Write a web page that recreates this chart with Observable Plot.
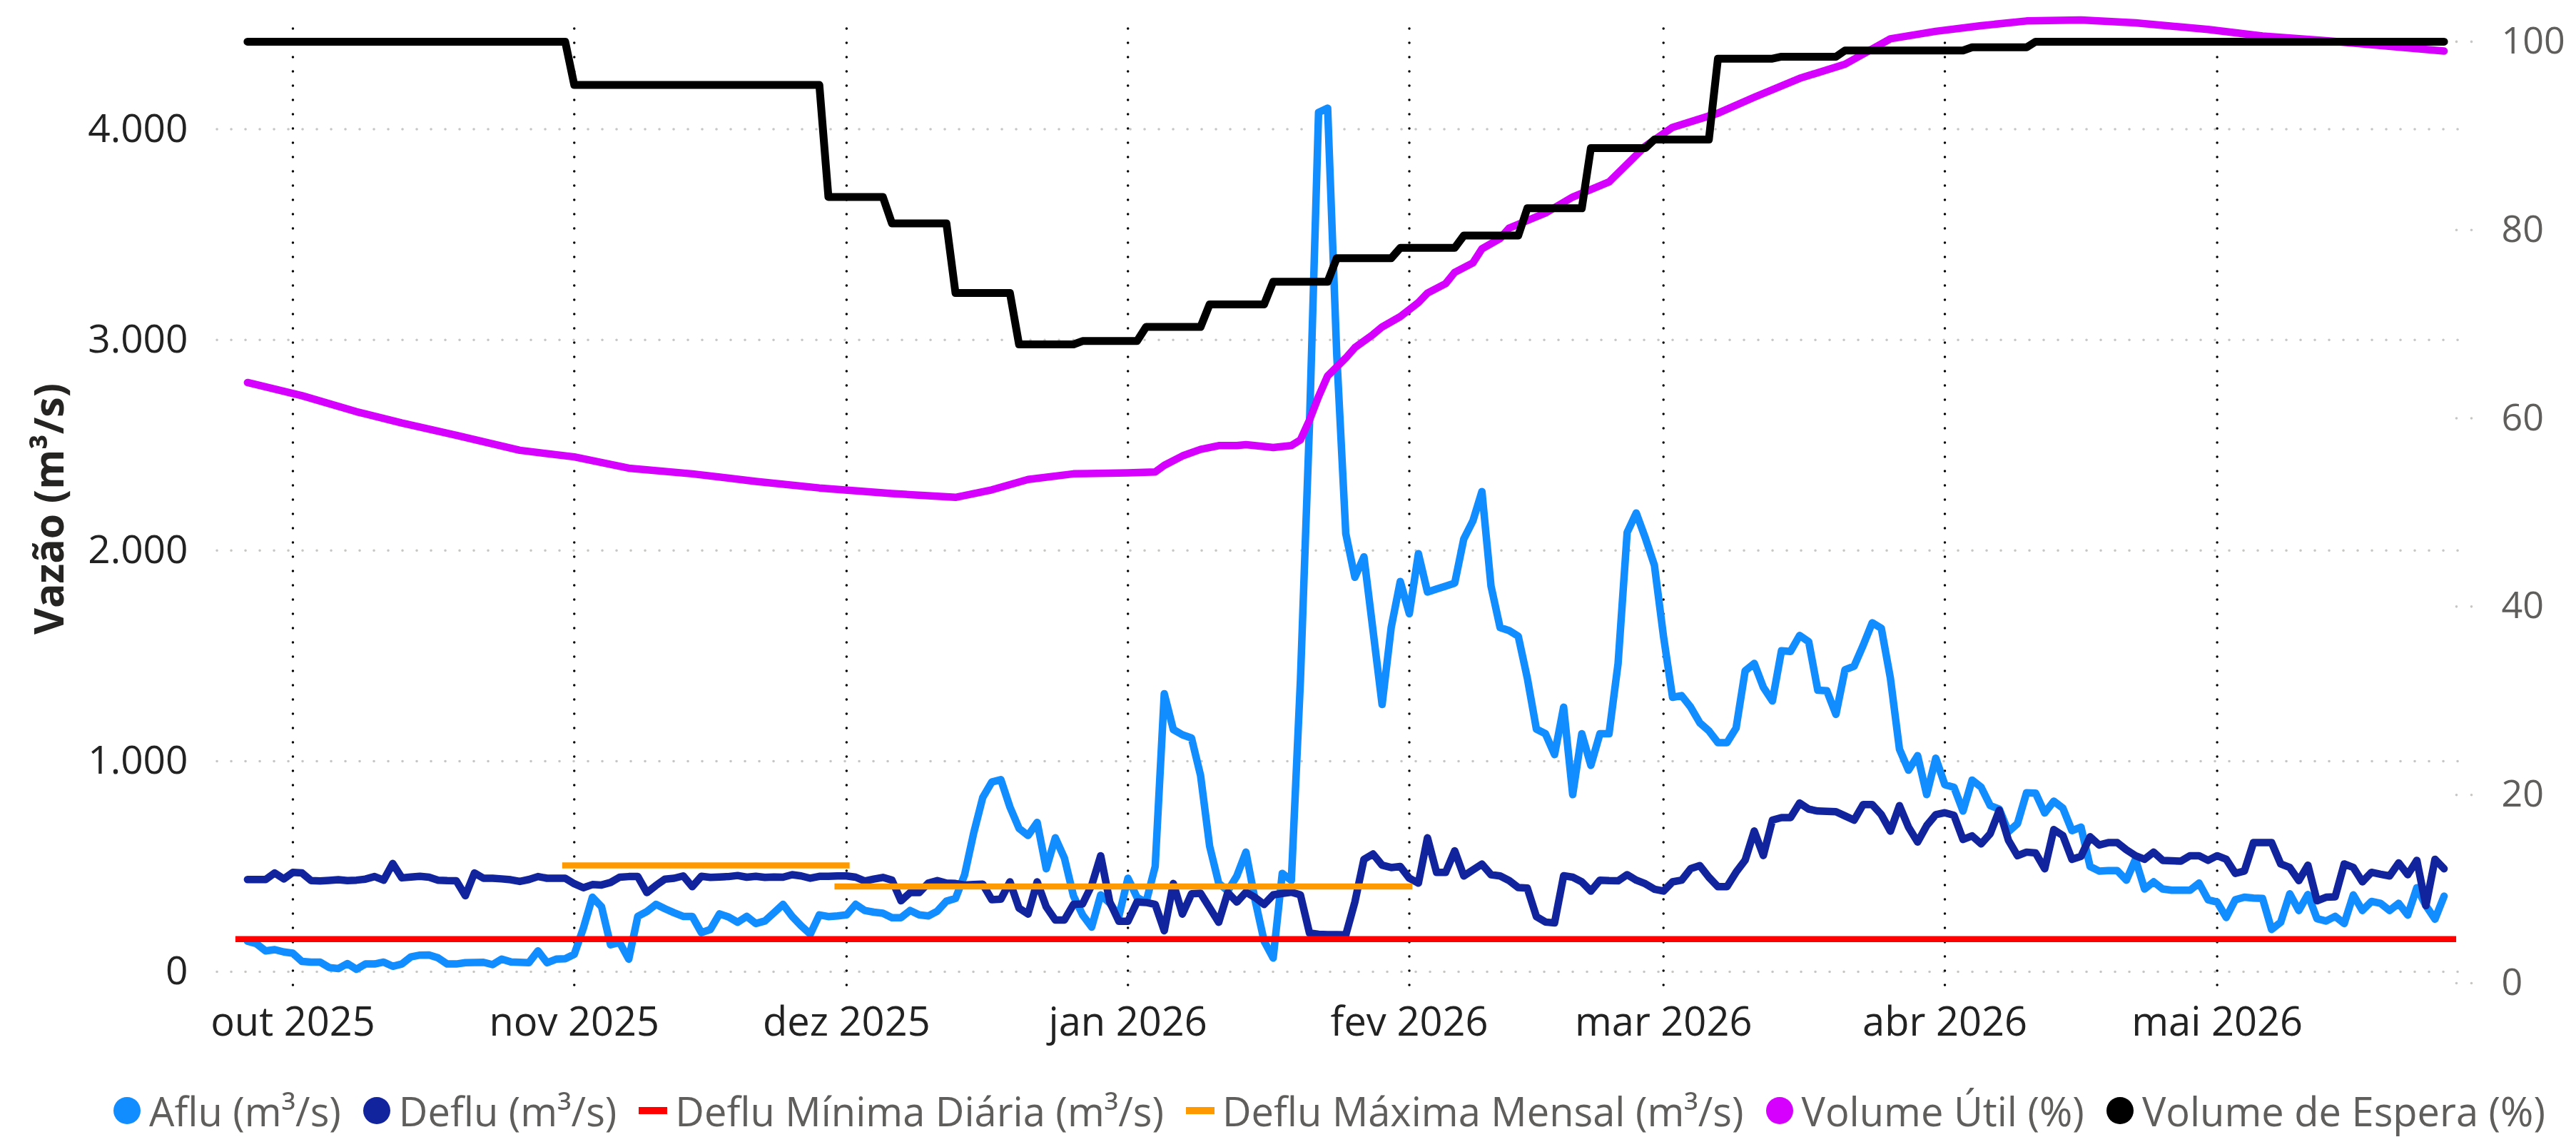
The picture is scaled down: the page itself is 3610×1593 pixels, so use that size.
<!DOCTYPE html>
<html><head><meta charset="utf-8">
<script src="https://cdn.jsdelivr.net/npm/d3@7"></script>
<script src="https://cdn.jsdelivr.net/npm/@observablehq/plot@0.6"></script>
<style>
html,body{margin:0;padding:0;background:#fff;overflow:hidden;width:3610px;height:1593px;}
#chart{position:absolute;left:0;top:0;}
#legend{position:absolute;left:159px;top:1526px;height:60px;display:flex;align-items:center;white-space:nowrap;font-family:"Open Sans",sans-serif;font-size:56px;color:#605E5C;}
.item{display:flex;align-items:center;margin-right:31px;}
.dot{width:38px;height:38px;border-radius:50%;margin-right:12px;}
.dash{width:40px;height:10px;margin-right:11px;}
</style></head><body>
<div id="chart"></div><div id="legend"></div>
<script>
// ---------------- DATA ----------------
const flowStart = "2025-09-26"; // first daily value, one value per day
const afluValues = [
145,133,99,105,94,88,49,46,46,20,
15,39,12,37,37,46,26,37,71,79,
80,66,37,37,43,44,45,34,60,47,
45,43,99,43,60,62,83,207,354,309,
128,139,60,263,286,320,299,280,263,263,
186,201,275,260,235,263,229,241,280,320,
263,218,179,270,262,265,270,320,291,283,
278,257,257,291,270,265,288,335,348,460,
658,827,901,912,782,681,647,709,489,636,
540,360,270,212,365,326,263,444,353,331,
500,1320,1150,1125,1110,932,596,420,384,455,
568,342,146,65,467,433,1382,2600,4080,4100,
2934,2080,1873,1970,1620,1269,1634,1853,1700,1985,
1803,1817,1831,1845,2055,2140,2280,1831,1634,1620,
1593,1394,1152,1130,1031,1256,841,1130,980,1130,
1130,1464,2086,2178,2060,1930,1593,1303,1311,1256,
1182,1144,1088,1088,1157,1429,1464,1351,1286,1524,
1521,1597,1567,1337,1334,1222,1434,1451,1550,1657,
1631,1394,1057,957,1026,841,1014,888,876,763,
910,876,789,772,665,703,850,848,754,810,
777,670,687,500,478,480,480,435,534,393,
427,393,387,387,387,421,342,331,258,342,
354,350,348,201,235,370,291,367,252,241,
263,229,365,291,334,325,291,325,269,399,
314,250,359];
const defluValues = [
438,438,438,469,441,472,469,433,431,434,
437,433,435,440,452,435,514,446,450,453,
449,435,433,432,361,469,444,444,441,437,
429,438,452,444,444,444,418,399,414,412,
424,449,452,452,376,410,440,444,455,404,
453,448,450,452,457,449,453,448,450,449,
461,455,444,453,453,455,455,449,431,440,
448,435,337,376,376,421,433,421,419,412,
414,416,342,345,427,302,274,427,308,246,
246,320,322,410,551,331,240,240,331,329,
320,195,419,274,370,373,304,235,376,331,
378,353,320,365,372,378,365,184,178,176,
176,175,331,534,559,506,495,500,444,421,
636,472,472,574,455,483,511,461,455,433,
400,397,262,236,232,456,449,427,383,435,
433,432,461,435,418,392,383,427,435,490,
504,449,404,404,473,530,668,552,720,732,
732,801,772,763,762,760,740,720,794,794,
746,668,789,686,616,694,746,755,743,628,
645,607,656,767,625,551,568,564,489,675,
647,534,548,641,602,613,613,579,551,534,
568,529,527,525,551,551,529,551,534,467,
478,613,613,613,512,495,433,506,337,354,
356,512,495,427,472,463,455,517,461,529,
314,534,489];
const minDates = ["2025-09-25", "2026-05-27"];
const minValue = 155;
const maxStarts = ["2025-10-31", "2025-11-30"];
const maxEnds   = ["2025-12-01", "2026-02-01"];
const maxValues = [505, 405];
const utilDates = ["2025-09-26","2025-10-02","2025-10-08","2025-10-13","2025-10-19","2025-10-26","2025-11-01","2025-11-07","2025-11-14","2025-11-21","2025-11-28","2025-12-06","2025-12-13","2025-12-17","2025-12-21","2025-12-26","2026-01-01","2026-01-04","2026-01-05","2026-01-07","2026-01-09","2026-01-11","2026-01-13","2026-01-14","2026-01-17","2026-01-19","2026-01-20","2026-01-21","2026-01-22","2026-01-23","2026-01-25","2026-01-26","2026-01-28","2026-01-29","2026-01-31","2026-02-02","2026-02-03","2026-02-05","2026-02-06","2026-02-08","2026-02-09","2026-02-11","2026-02-12","2026-02-14","2026-02-16","2026-02-19","2026-02-23","2026-02-27","2026-03-02","2026-03-07","2026-03-11","2026-03-16","2026-03-21","2026-03-26","2026-03-31","2026-04-05","2026-04-10","2026-04-16","2026-04-22","2026-04-30","2026-05-06","2026-05-13","2026-05-19","2026-05-26"];
const utilValues = [63.8,62.4,60.7,59.5,58.2,56.6,55.9,54.7,54.1,53.3,52.6,52.0,51.6,52.4,53.5,54.1,54.2,54.3,55.0,56.0,56.7,57.1,57.1,57.2,56.9,57.1,57.7,59.8,62.3,64.5,66.4,67.5,68.9,69.7,70.8,72.3,73.3,74.3,75.5,76.5,78.0,79.1,80.2,81.0,81.8,83.5,85.1,88.9,90.9,92.4,94.1,96.1,97.6,100.3,101.1,101.7,102.2,102.3,102.0,101.3,100.6,100.1,99.6,99.0];
const esperaStarts = ["2025-09-26","2025-11-01","2025-11-29","2025-12-06","2025-12-13","2025-12-20","2025-12-27","2026-01-03","2026-01-10","2026-01-17","2026-01-24","2026-01-31","2026-02-07","2026-02-14","2026-02-21","2026-02-28","2026-03-07","2026-03-14","2026-03-21","2026-04-04","2026-04-11"];
const esperaLevels = [100,95.4,83.5,80.7,73.3,67.85,68.2,69.7,72.1,74.5,77.0,78.1,79.4,82.3,88.7,89.6,98.2,98.4,99.06,99.4,100];
const esperaEnd = "2026-05-26";
const monthTicks = ["2025-10-01","2025-11-01","2025-12-01","2026-01-01","2026-02-01","2026-03-01","2026-04-01","2026-05-01"];
const monthLabels = ["out 2025","nov 2025","dez 2025","jan 2026","fev 2026","mar 2026","abr 2026","mai 2026"];
const leftTicks = [0,1000,2000,3000,4000];
const rightTicks = [0,20,40,60,80,100];
const legendLabels = ["Aflu (m³/s)","Deflu (m³/s)","Deflu Mínima Diária (m³/s)","Deflu Máxima Mensal (m³/s)","Volume Útil (%)","Volume de Espera (%)"];
const legendShapes = ["dot","dot","dash","dash","dot","dot"];
const seriesColors = ["#118DFF","#12239E","#FF0000","#FF9900","#D600FF","#000000"];

// ---------------- TABLES ----------------
const DAY = 864e5;
const t = s => new Date(s + "T00:00:00Z");
const flows = afluValues.map((a, i) => ({date: new Date(t(flowStart).getTime() + i * DAY), aflu: a, deflu: defluValues[i]}));
const minTable = minDates.map(d => ({date: t(d), v: minValue}));
const maxTable = maxValues.flatMap((v, i) => [{date: t(maxStarts[i]), v, seg: i}, {date: t(maxEnds[i]), v, seg: i}]);
const utilTable = utilDates.map((d, i) => ({date: t(d), p: utilValues[i]}));
const esperaTable = esperaStarts.flatMap((s, i) => {
  const end = i < esperaStarts.length - 1 ? new Date(t(esperaStarts[i + 1]).getTime() - DAY) : t(esperaEnd);
  return [{date: t(s), p: esperaLevels[i]}, {date: end, p: esperaLevels[i]}];
});
// secondary (%) axis expressed in primary-axis units
const pct = p => 44.70 * p - 54.2;
const fmt = d3.formatLocale({decimal: ",", thousands: ".", grouping: [3], currency: ["", ""]}).format(",.0f");

const x0 = Date.UTC(2025, 9, 1);
const chart = Plot.plot({
  width: 3610, height: 1500,
  marginLeft: 304, marginRight: 163, marginTop: 40, marginBottom: 115,
  x: {type: "utc", domain: [new Date(x0 - 8.33 * DAY), new Date(x0 + 238.76 * DAY)], axis: null},
  y: {domain: [-81.3, 4476.4], axis: null},
  style: {fontFamily: "'Open Sans', sans-serif", background: "#fff", overflow: "visible"},
  marks: [
    Plot.ruleY(leftTicks, {stroke: "#C8C6C4", strokeWidth: 3.5, strokeDasharray: "0.1 19.9", strokeLinecap: "round"}),
    Plot.ruleX(monthTicks.map(t), {stroke: "#000", strokeWidth: 3.5, strokeDasharray: "0.1 19.9", strokeLinecap: "round"}),
    Plot.dot(rightTicks, {y: pct, frameAnchor: "right", dx: -5, r: 1.8, fill: "#C8C6C4"}),
    Plot.dot(rightTicks, {y: pct, frameAnchor: "right", dx: 16, r: 1.8, fill: "#C8C6C4"}),
    Plot.line(flows, {x: "date", y: "aflu", stroke: seriesColors[0], strokeWidth: 10.5}),
    Plot.line(flows, {x: "date", y: "deflu", stroke: seriesColors[1], strokeWidth: 10.5}),
    Plot.line(minTable, {x: "date", y: "v", stroke: seriesColors[2], strokeWidth: 8.5, strokeLinecap: "square"}),
    Plot.line(maxTable, {x: "date", y: "v", z: "seg", stroke: seriesColors[3], strokeWidth: 8.5, strokeLinecap: "square"}),
    Plot.line(utilTable, {x: "date", y: d => pct(d.p), stroke: seriesColors[4], strokeWidth: 10.5}),
    Plot.line(esperaTable, {x: "date", y: d => pct(d.p), stroke: seriesColors[5], strokeWidth: 11}),
    Plot.text(leftTicks, {y: d => d, text: d => fmt(d), frameAnchor: "left", dx: -41, textAnchor: "end", lineAnchor: "middle", fontSize: 55, fill: "#222"}),
    Plot.text(rightTicks, {y: pct, text: d => String(d), frameAnchor: "right", dx: 58, textAnchor: "start", lineAnchor: "middle", fontSize: 52, fill: "#605E5C"}),
    Plot.text(monthTicks, {x: d => t(d), text: (d, i) => monthLabels[i], frameAnchor: "bottom", dy: 48, textAnchor: "middle", lineAnchor: "middle", fontSize: 56, fill: "#222"}),
    Plot.text(["Vazão (m³/s)"], {frameAnchor: "left", dx: -234, rotate: -90, textAnchor: "middle", lineAnchor: "middle", fontSize: 57, fontWeight: "bold", fill: "#252423"})
  ]
});
document.getElementById("chart").appendChild(chart);

const legend = document.getElementById("legend");
legendLabels.forEach((lab, i) => {
  const it = document.createElement("div"); it.className = "item";
  const m = document.createElement("span"); m.className = legendShapes[i]; m.style.background = seriesColors[i];
  const tx = document.createElement("span"); tx.textContent = lab;
  it.appendChild(m); it.appendChild(tx); legend.appendChild(it);
});
</script></body></html>
